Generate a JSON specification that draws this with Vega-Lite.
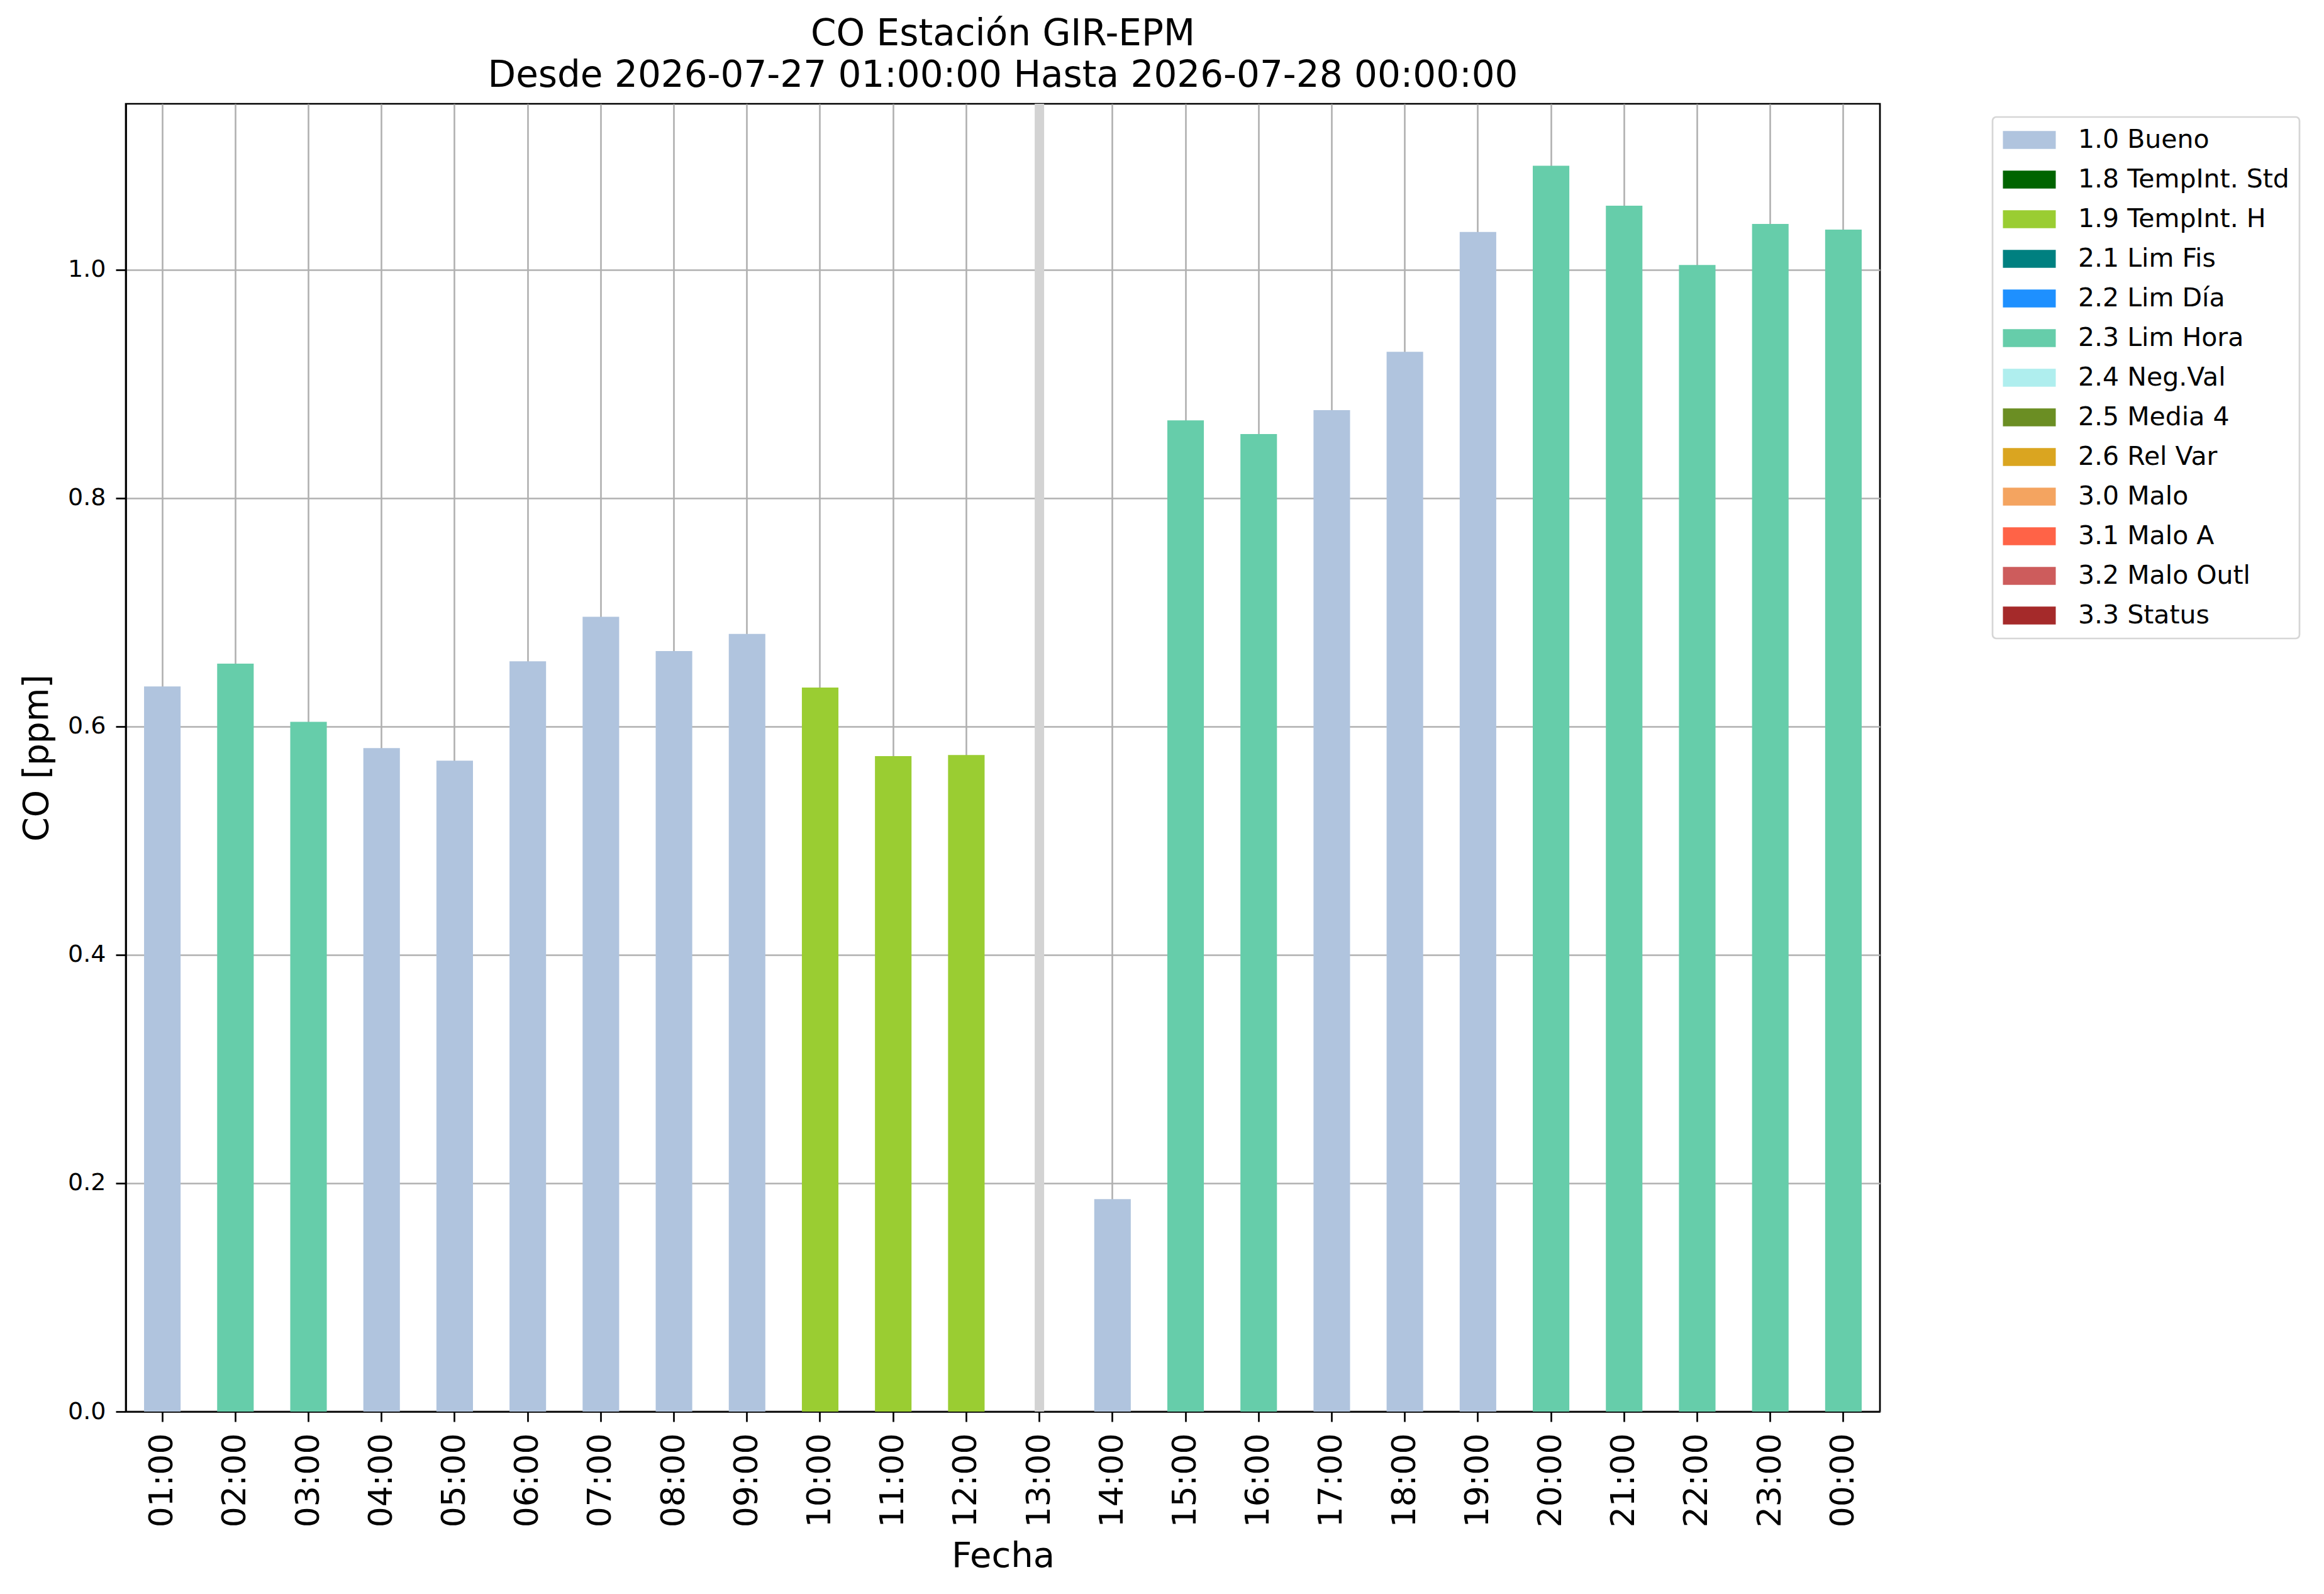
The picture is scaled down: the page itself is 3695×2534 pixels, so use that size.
{
  "$schema": "https://vega.github.io/schema/vega-lite/v6.json",
  "autosize": {"type": "none"},
  "padding": {"left": 200, "top": 165, "right": 706, "bottom": 290},
  "width": 2789,
  "height": 2079,
  "background": "white",
  "title": {
    "text": ["CO Estación GIR-EPM", "Desde 2026-07-27 01:00:00 Hasta 2026-07-28 00:00:00"],
    "fontSize": 58,
    "fontWeight": "normal",
    "font": "DejaVu Sans",
    "color": "black",
    "lineHeight": 66,
    "anchor": "middle",
    "frame": "group",
    "offset": 8
  },
  "datasets": {
    "co": [
      {"hora": "01:00", "valor": 0.635, "flag": "1.0 Bueno"},
      {"hora": "02:00", "valor": 0.655, "flag": "2.3 Lim Hora"},
      {"hora": "03:00", "valor": 0.604, "flag": "2.3 Lim Hora"},
      {"hora": "04:00", "valor": 0.581, "flag": "1.0 Bueno"},
      {"hora": "05:00", "valor": 0.570, "flag": "1.0 Bueno"},
      {"hora": "06:00", "valor": 0.657, "flag": "1.0 Bueno"},
      {"hora": "07:00", "valor": 0.696, "flag": "1.0 Bueno"},
      {"hora": "08:00", "valor": 0.666, "flag": "1.0 Bueno"},
      {"hora": "09:00", "valor": 0.681, "flag": "1.0 Bueno"},
      {"hora": "10:00", "valor": 0.634, "flag": "1.9 TempInt. H"},
      {"hora": "11:00", "valor": 0.574, "flag": "1.9 TempInt. H"},
      {"hora": "12:00", "valor": 0.575, "flag": "1.9 TempInt. H"},
      {"hora": "14:00", "valor": 0.186, "flag": "1.0 Bueno"},
      {"hora": "15:00", "valor": 0.868, "flag": "2.3 Lim Hora"},
      {"hora": "16:00", "valor": 0.856, "flag": "2.3 Lim Hora"},
      {"hora": "17:00", "valor": 0.877, "flag": "1.0 Bueno"},
      {"hora": "18:00", "valor": 0.928, "flag": "1.0 Bueno"},
      {"hora": "19:00", "valor": 1.033, "flag": "1.0 Bueno"},
      {"hora": "20:00", "valor": 1.091, "flag": "2.3 Lim Hora"},
      {"hora": "21:00", "valor": 1.056, "flag": "2.3 Lim Hora"},
      {"hora": "22:00", "valor": 1.004, "flag": "2.3 Lim Hora"},
      {"hora": "23:00", "valor": 1.040, "flag": "2.3 Lim Hora"},
      {"hora": "00:00", "valor": 1.035, "flag": "2.3 Lim Hora"}
    ],
    "faltantes": [
      {"hora": "13:00"}
    ]
  },
  "layer": [
    {
      "data": {"name": "faltantes"},
      "mark": {"type": "rule", "color": "#d3d3d3", "strokeWidth": 15},
      "encoding": {
        "x": {"field": "hora", "type": "ordinal"}
      }
    },
    {
      "data": {"name": "co"},
      "mark": {"type": "bar", "opacity": 1},
      "encoding": {
        "x": {
          "field": "hora",
          "type": "ordinal",
          "sort": null,
          "scale": {
            "domain": ["01:00", "02:00", "03:00", "04:00", "05:00", "06:00", "07:00", "08:00", "09:00", "10:00", "11:00", "12:00", "13:00", "14:00", "15:00", "16:00", "17:00", "18:00", "19:00", "20:00", "21:00", "22:00", "23:00", "00:00"],
            "paddingInner": 0.5,
            "paddingOuter": 0.25
          },
          "axis": {
            "title": "Fecha",
            "labelAngle": 270,
            "labelFontSize": 52,
            "titleFontSize": 56,
            "titlePadding": 19,
            "labelPadding": 18
          }
        },
        "y": {
          "field": "valor",
          "type": "quantitative",
          "scale": {"domain": [0, 1.1452], "nice": false, "zero": true},
          "axis": {
            "title": "CO [ppm]",
            "values": [0, 0.2, 0.4, 0.6, 0.8, 1.0],
            "format": ".1f",
            "labelFontSize": 38,
            "titleFontSize": 55,
            "titlePadding": 20,
            "labelPadding": 16
          }
        },
        "color": {
          "field": "flag",
          "type": "nominal",
          "scale": {
            "domain": ["1.0 Bueno", "1.8 TempInt. Std", "1.9 TempInt. H", "2.1 Lim Fis", "2.2 Lim Día", "2.3 Lim Hora", "2.4 Neg.Val", "2.5 Media 4", "2.6 Rel Var", "3.0 Malo", "3.1 Malo A", "3.2 Malo Outl", "3.3 Status"],
            "range": ["#b0c4de", "#006400", "#9acd32", "#008080", "#1e90ff", "#66cdaa", "#afeeee", "#6b8e23", "#daa520", "#f4a460", "#ff6347", "#cd5c5c", "#a52a2a"]
          },
          "legend": {
            "title": null,
            "orient": "none",
            "legendX": 2968,
            "legendY": 21
          }
        }
      }
    }
  ],
  "config": {
    "font": "DejaVu Sans",
    "view": {"stroke": "black", "strokeWidth": 2.7},
    "axis": {
      "zindex": 1,
      "grid": true,
      "gridColor": "#b0b0b0",
      "gridWidth": 2.6,
      "gridOpacity": 1,
      "domainColor": "black",
      "domainWidth": 2.7,
      "tickColor": "black",
      "tickWidth": 2.7,
      "tickSize": 16,
      "labelColor": "black",
      "titleColor": "black",
      "titleFontWeight": "normal",
      "labelFont": "DejaVu Sans",
      "titleFont": "DejaVu Sans"
    },
    "axisBand": {"tickBand": "center", "gridBand": "center"},
    "legend": {
      "labelFontSize": 41,
      "labelFont": "DejaVu Sans",
      "labelColor": "black",
      "symbolType": "M-1,-0.707H3.2V0.707H-1Z",
      "symbolSize": 1600,
      "symbolStrokeWidth": 0,
      "symbolOpacity": 1,
      "rowPadding": 21,
      "labelOffset": 79,
      "padding": 16,
      "strokeColor": "#d6d6d6",
      "strokeWidth": 2.7,
      "cornerRadius": 6,
      "fillColor": "white",
      "labelLimit": 600
    }
  }
}
